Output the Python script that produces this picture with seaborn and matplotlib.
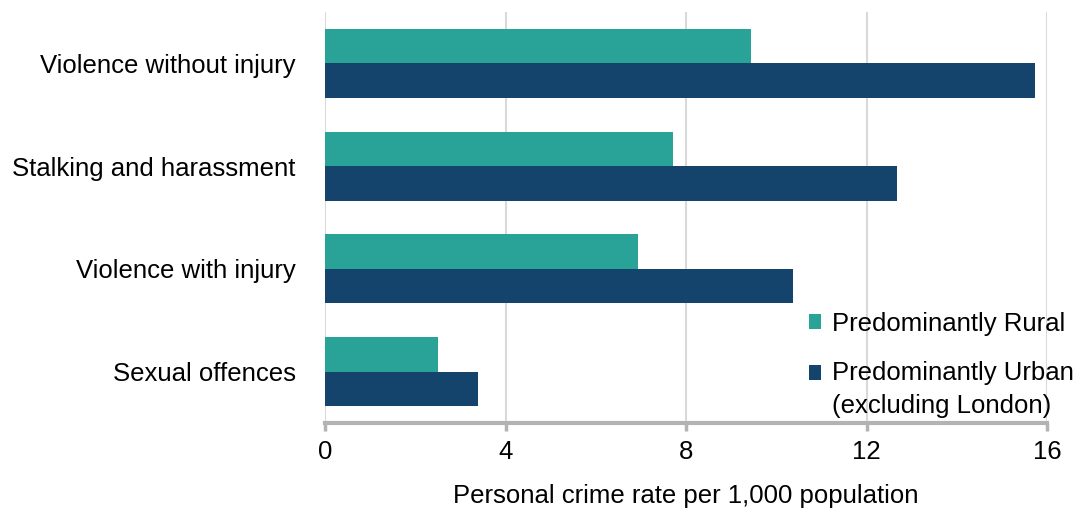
import matplotlib
matplotlib.use("Agg")
import matplotlib.pyplot as plt
import seaborn as sns
import pandas as pd
from matplotlib.patches import Patch

categories = ["Violence without injury", "Stalking and harassment", "Violence with injury", "Sexual offences"]
rural = [9.45, 7.72, 6.93, 2.51]
urban = [15.74, 12.68, 10.38, 3.39]
series_names = ["Predominantly Rural", "Predominantly Urban\n(excluding London)"]
colors = ["#29A398", "#14436B"]
xticks = [0, 4, 8, 12, 16]

df = pd.DataFrame({
    "category": categories * 2,
    "value": rural + urban,
    "series": [series_names[0]] * 4 + [series_names[1]] * 4,
})

sns.set_style("white")
plt.rcParams['font.family'] = ['Liberation Sans', 'DejaVu Sans']
plt.rcParams['text.color'] = 'black'
plt.rcParams['xtick.color'] = 'black'
plt.rcParams['ytick.color'] = 'black'
plt.rcParams['axes.labelcolor'] = 'black'

FS = 18.5

fig = plt.figure(figsize=(10.76, 5.09), dpi=100)
ax = fig.add_axes([325/1076, 1-423/509, (1047-325)/1076, (423-12)/509])

sns.barplot(data=df, y="category", x="value", hue="series", order=categories,
            hue_order=series_names, palette=colors, orient="h", width=0.67,
            ax=ax, legend=False, saturation=1, linewidth=0)

ax.set_xlim(0, 16)
ax.set_ylim(3.5, -0.5)
ax.set_xticks(xticks)
ax.set_xticklabels([str(t) for t in xticks], fontsize=FS)
ax.tick_params(axis='x', bottom=True, direction='out', length=6, width=2.5,
               color='#B3B3B3', labelcolor='black', pad=6)
ax.tick_params(axis='y', length=0, labelsize=FS, pad=21, labelcolor='black')
ax.set_ylabel("")
ax.set_xlabel("Personal crime rate per 1,000 population", fontsize=FS, labelpad=15)
ax.grid(axis='x', color='#D9D9D9', linewidth=1.5)
ax.set_axisbelow(True)
for s in ["top", "right", "left"]:
    ax.spines[s].set_visible(False)
ax.spines["bottom"].set_color('#B3B3B3')
ax.spines["bottom"].set_linewidth(3)

handles = [Patch(facecolor=c, edgecolor='none') for c in colors]
leg = fig.legend(handles, series_names, loc='upper left', bbox_to_anchor=(788/1076, 1-291/509),
                 frameon=False, fontsize=FS, handlelength=0.5, handleheight=0.5,
                 handletextpad=0.4, labelspacing=1.0, borderpad=0.3)
for t in leg.get_texts():
    t.set_linespacing(1.45)
# align the second square with the first line of its label
p = leg.legend_handles[1]
p.set_y(p.get_y() + 12.5)

fig.savefig("out.png", dpi=100)
